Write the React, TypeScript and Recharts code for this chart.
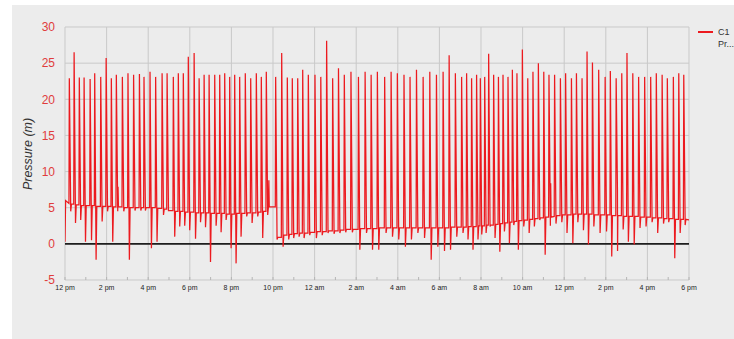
import React from 'react';
import { LineChart, Line, XAxis, YAxis, CartesianGrid, ReferenceLine } from 'recharts';

// Hours since 12 pm on day 1
const hourTicks = [0, 1, 2, 3, 4, 5, 6, 7, 8, 9, 10, 11, 12, 13, 14, 15, 16, 17, 18, 19, 20, 21, 22, 23, 24, 25, 26, 27, 28, 29, 30];
const majorHours = [0, 2, 4, 6, 8, 10, 12, 14, 16, 18, 20, 22, 24, 26, 28, 30];
const tickLabels = ['12 pm', '2 pm', '4 pm', '6 pm', '8 pm', '10 pm', '12 am', '2 am', '4 am', '6 am', '8 am', '10 am', '12 pm', '2 pm', '4 pm', '6 pm'];
const yTicks = [-5, 0, 5, 10, 15, 20, 25, 30];

// Pump cycles: time of each pressure spike (hours), peak, level before it, dip after it
const spikeHour = [
  0.19, 0.42, 0.67, 0.90, 1.19, 1.41, 1.70, 1.96, 2.21, 2.45, 2.74, 3.01, 3.28, 3.56, 3.78, 4.07, 4.34, 4.65, 4.89,
  5.19, 5.43, 5.67, 5.91, 6.19, 6.43, 6.67, 6.91, 7.18, 7.42, 7.66, 7.90, 8.14, 8.38, 8.65, 8.91, 9.18, 9.42, 9.66,
  10.11, 10.40, 10.67, 10.91, 11.17, 11.41, 11.68, 12.00, 12.28, 12.56, 12.85, 13.13, 13.41, 13.73, 14.09, 14.41, 14.70,
  15.00, 15.35, 15.66, 15.96, 16.28, 16.57, 16.88, 17.20, 17.52, 17.84, 18.16, 18.45, 18.75, 19.05, 19.29, 19.53, 19.77,
  19.95, 20.16, 20.35, 20.59, 20.82, 21.04, 21.28, 21.49, 21.71, 21.97, 22.23, 22.48, 22.74, 23.00, 23.25, 23.52, 23.80, 24.05, 24.33, 24.57,
  24.84, 25.08, 25.34, 25.64, 25.95, 26.20, 26.48, 26.75, 27.00, 27.28, 27.56, 27.85, 28.14, 28.41, 28.69, 28.94, 29.23, 29.49, 29.73,
];
const spikePeak = [
  22.9, 26.5, 23.0, 23.0, 22.8, 23.6, 23.1, 25.7, 22.9, 23.4, 23.1, 23.6, 23.4, 23.5, 23.1, 23.8, 23.1, 23.6, 23.6,
  23.1, 23.6, 23.6, 25.9, 26.4, 22.9, 23.4, 23.4, 23.4, 23.4, 23.6, 23.1, 23.4, 23.1, 23.6, 22.9, 23.6, 23.1, 23.8,
  23.1, 26.4, 23.0, 22.9, 22.9, 24.1, 23.4, 23.4, 23.1, 28.1, 22.9, 24.3, 23.4, 23.8, 23.1, 23.8, 23.4,
  23.8, 23.1, 23.8, 23.6, 23.4, 23.1, 24.1, 23.1, 23.8, 23.4, 23.8, 26.1, 23.6, 23.1, 23.6, 22.9, 23.4,
  22.9, 23.1, 26.3, 23.4, 23.1, 23.4, 23.1, 24.1, 23.6, 26.9, 22.9, 23.8, 25.0, 23.8, 23.4, 23.4, 22.9, 23.6, 22.9, 23.6,
  22.9, 26.6, 25.1, 24.1, 23.1, 23.9, 22.9, 23.6, 26.4, 23.6, 23.1, 23.1, 23.1, 23.6, 23.4, 22.9, 23.1, 23.6, 23.4,
];
const spikeBase = [
  5.6, 5.5, 5.4, 5.3, 5.3, 5.3, 5.2, 5.2, 5.2, 5.1, 5.1, 5.0, 5.0, 5.0, 5.0, 5.0, 5.0, 4.9, 4.8,
  4.6, 4.5, 4.5, 4.4, 4.4, 4.3, 4.3, 4.3, 4.2, 4.2, 4.2, 4.1, 4.1, 4.2, 4.2, 4.3, 4.3, 4.4, 4.5,
  5.1, 0.9, 1.2, 1.3, 1.4, 1.5, 1.5, 1.6, 1.7, 1.7, 1.8, 1.8, 1.9, 2.0, 2.0, 2.1, 2.1,
  2.1, 2.2, 2.2, 2.2, 2.2, 2.2, 2.2, 2.2, 2.2, 2.2, 2.2, 2.2, 2.3, 2.3, 2.3, 2.4, 2.4,
  2.5, 2.5, 2.6, 2.6, 2.7, 2.8, 2.9, 3.0, 3.1, 3.2, 3.3, 3.4, 3.5, 3.6, 3.7, 3.8, 3.9, 4.0, 4.0, 4.1,
  4.1, 4.1, 4.1, 4.0, 4.0, 4.0, 3.9, 3.9, 3.8, 3.8, 3.8, 3.7, 3.7, 3.6, 3.6, 3.5, 3.5, 3.4, 3.4,
];
const spikeDip = [
  4.5, 2.9, 3.3, 0.3, 0.5, -2.2, 3.1, 4.5, 0.3, 4.5, 4.5, -2.2, 4.6, 4.6, 4.6, -0.6, 0.3, 4.0, 4.6,
  1.0, 2.4, 2.5, 1.9, 0.7, 3.0, 2.3, -2.5, 2.5, 1.6, 3.3, -0.6, -2.7, 1.0, 3.8, 2.9, 3.8, 0.8, 4.0,
  0.6, -0.4, 0.6, 0.8, 1.0, 0.8, 1.2, 0.8, 1.2, 1.5, 1.4, 1.5, 1.6, 1.6, -0.8, 1.5, -0.8,
  -0.8, 1.5, 1.0, 0.6, -0.4, 0.6, 1.5, 0.8, -2.2, -0.4, -1.0, -0.8, 1.0, 1.5, 0.6, -0.8, 0.6,
  1.3, 1.5, 2.4, 0.8, -1.1, 1.7, 0.1, 2.6, -0.8, 2.4, 1.5, 2.4, 3.3, -1.5, 2.5, 2.8, 3.0, 1.5, 0.1, 3.0,
  1.9, -0.1, 2.4, 1.5, 1.7, -1.75, -1.0, 2.0, 0.3, -0.1, 2.2, 2.4, 3.0, 1.5, 2.8, 3.0, -2.0, 1.5, 2.6,
];
// Other readings (start, odd bumps, end)
const extraHour = [0.0, 0.03, 2.55, 2.57, 9.8, 9.82, 23.35, 23.37, 26.56, 26.58, 30.0];
const extraValue = [0.3, 6.0, 7.9, 5.1, 8.8, 5.1, 8.4, 3.7, 7.5, 3.9, 3.3];

type Row = { h: number; p: number };

function buildRows(): Row[] {
  const rows: Row[] = [];
  const n = spikeHour.length;
  for (let i = 0; i < n; i++) {
    const t = spikeHour[i];
    const next = i + 1 < n ? spikeBase[i + 1] : spikeBase[i];
    rows.push({ h: t, p: spikeBase[i] });
    rows.push({ h: t + 0.018, p: spikePeak[i] });
    rows.push({ h: t + 0.085, p: spikeDip[i] });
    rows.push({ h: t + 0.12, p: next });
  }
  for (let j = 0; j < extraHour.length; j++) rows.push({ h: extraHour[j], p: extraValue[j] });
  rows.sort((a, b) => a.h - b.h);
  return rows;
}

const rows = buildRows();
const FONT = '"Liberation Sans", Arial, sans-serif';

const XTick = (props: any) => {
  const { x, y, payload } = props;
  const v = payload.value;
  if (v % 2 !== 0) return <g />;
  return (
    <text x={x} y={y} dy={7} textAnchor="middle" fontSize={7} fill="#222" fontFamily={FONT}>
      {tickLabels[v / 2]}
    </text>
  );
};

const YLabel = () => (
  <text
    x={28}
    y={154}
    transform="rotate(-90, 28, 154)"
    textAnchor="middle"
    dominantBaseline="central"
    fontSize={12.5}
    fontStyle="italic"
    fill="#333"
    fontFamily={FONT}
  >
    Pressure (m)
  </text>
);

export default function App() {
  return (
    <div style={{ position: 'absolute', left: 0, top: 0, width: 734, height: 339, background: '#ffffff', overflow: 'hidden' }}>
      <div style={{ position: 'absolute', left: 12, top: 5, right: 0, bottom: 0, background: '#ececec' }} />
      <div style={{ position: 'absolute', left: 0, top: 0 }}>
        <LineChart width={734} height={339} data={rows} margin={{ top: 27, right: 45, bottom: 29, left: 0 }}>
          <CartesianGrid vertical={false} stroke="#c9c9c9" strokeWidth={1} />
          {majorHours.map((h) => (
            <ReferenceLine key={h} x={h} stroke="#c9c9c9" strokeWidth={1} ifOverflow="extendDomain" />
          ))}
          <XAxis
            dataKey="h"
            type="number"
            domain={[0, 30]}
            ticks={hourTicks}
            interval={0}
            axisLine={false}
            tickLine={{ stroke: '#b5b5b5' }}
            tickSize={-3}
            tickMargin={6}
            tick={<XTick />}
            height={30}
            allowDataOverflow
          />
          <YAxis
            type="number"
            domain={[-5, 30]}
            ticks={yTicks}
            interval={0}
            width={65}
            axisLine={false}
            tickLine={false}
            tickMargin={4}
            tick={{ fill: '#e03c3c', fontSize: 12, fontFamily: FONT }}
            label={<YLabel />}
            allowDataOverflow
          />
          <ReferenceLine y={0} stroke="#1e1e1e" strokeWidth={1.6} />
          <Line
            type="linear"
            dataKey="p"
            stroke="#ec1a1f"
            strokeWidth={1.25}
            dot={false}
            activeDot={false}
            isAnimationActive={false}
          />
        </LineChart>
      </div>
      <div style={{ position: 'absolute', left: 698, top: 31, width: 15, height: 1.5, background: '#ec1a1f' }} />
      <div style={{ position: 'absolute', left: 718, top: 26, fontSize: 9, lineHeight: '12px', color: '#333', fontFamily: FONT, whiteSpace: 'nowrap' }}>
        C1
        <br />
        Pr...
      </div>
    </div>
  );
}
